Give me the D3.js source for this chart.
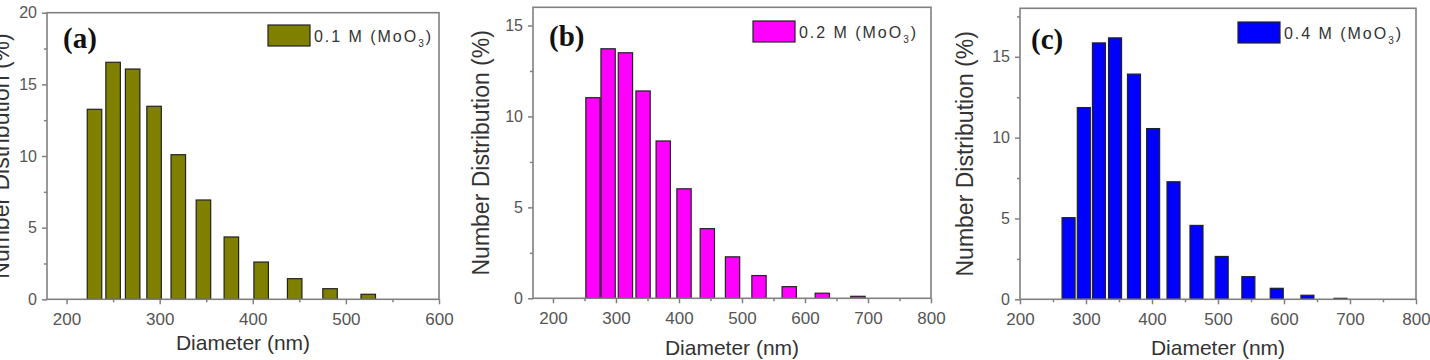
<!DOCTYPE html>
<html>
<head>
<meta charset="utf-8">
<style>
body { margin: 0; background: #fff; }
svg { display: block; font-family: "Liberation Sans", Arial, sans-serif; }
</style>
</head>
<body>
<svg id="chart" width="1430" height="360"></svg>
<script src="https://d3js.org/d3.v7.min.js"></script>
<script>

// panel (a) 0.1 M
const diamA = [230, 250, 271, 294, 320, 347, 377, 409, 445, 483, 524];
const valA  = [13.26, 16.54, 16.07, 13.47, 10.09, 6.93, 4.35, 2.6, 1.44, 0.74, 0.35];
// panel (b) 0.2 M
const diamB = [263.5, 287.5, 315, 343, 375, 408, 445, 485, 527, 575, 627.5, 684];
const valB  = [11.03, 13.72, 13.5, 11.4, 8.65, 6.02, 3.83, 2.28, 1.25, 0.64, 0.28, 0.11];
// panel (c) 0.4 M
const diamC = [273.6, 296.7, 319.6, 344, 372.7, 401.7, 432.6, 467.4, 505.6, 546, 589, 635.5, 685.6];
const valC  = [5.05, 11.86, 15.86, 16.17, 13.93, 10.56, 7.27, 4.57, 2.65, 1.40, 0.68, 0.25, 0.06];

const xTicks = [200, 300, 400, 500, 600, 700, 800];
const yTicksA = [0, 5, 10, 15, 20];
const yTicksB = [0, 5, 10, 15];
const yTicksC = [0, 5, 10, 15];

const legendA = "0.1 M (MoO";
const legendB = "0.2 M (MoO";
const legendC = "0.4 M (MoO";

const svg = d3.select("#chart");

function drawPanel(p) {
    let x = d3.scaleLinear().domain(p.xDomain).range([p.left, p.right]);
    let y = d3.scaleLinear().domain(p.yDomain).range([p.bottom, p.top]);
    let g = svg.append("g");

    // bars
    g.selectAll("rect.bar")
        .data(p.diam.map((d, i) => ({d: d, v: p.vals[i]})))
        .join("rect")
        .attr("class", "bar")
        .attr("x", d => x(d.d) - p.barW / 2)
        .attr("y", d => y(d.v))
        .attr("width", p.barW)
        .attr("height", d => y(0) - y(d.v))
        .attr("fill", p.color)
        .attr("stroke", "#222")
        .attr("stroke-width", 1.2);

    let xt = p.xTicks.filter(t => t >= p.xDomain[0] && t <= p.xDomain[1]);
    let xMinor = xt.slice(0, -1).map(t => t + 50).filter(t => t <= p.xDomain[1]);
    let yMinor = p.yTicks.map(t => t + 2.5).filter(t => t < p.yDomain[1]);

    // x axis
    let xa = g.append("g").attr("transform", `translate(0,${p.bottom})`)
        .call(d3.axisBottom(x).tickValues(xt).tickSize(5).tickPadding(5).tickFormat(d3.format("d")));
    g.append("g").attr("transform", `translate(0,${p.bottom})`)
        .call(d3.axisBottom(x).tickValues(xMinor).tickSize(3).tickFormat(""))
        .call(a => a.select(".domain").remove());
    // y axis
    let ya = g.append("g").attr("transform", `translate(${p.left},0)`)
        .call(d3.axisLeft(y).tickValues(p.yTicks).tickSize(5).tickPadding(5).tickFormat(d3.format("d")));
    g.append("g").attr("transform", `translate(${p.left},0)`)
        .call(d3.axisLeft(y).tickValues(yMinor).tickSize(3).tickFormat(""))
        .call(a => a.select(".domain").remove());

    g.selectAll(".tick line").attr("stroke", "#808080").attr("stroke-width", 1.5);
    g.selectAll(".domain").remove();
    xa.selectAll("text").attr("font-size", 17).attr("fill", "#555").attr("dy", "0.9em")
        .style("font-family", "Liberation Sans, Arial, sans-serif");
    ya.selectAll("text").attr("font-size", 16).attr("fill", "#555")
        .style("font-family", "Liberation Sans, Arial, sans-serif");

    // frame
    g.append("rect")
        .attr("x", p.left).attr("y", p.top)
        .attr("width", p.right - p.left).attr("height", p.bottom - p.top)
        .attr("fill", "none").attr("stroke", "#808080").attr("stroke-width", 1.6);

    // axis titles
    g.append("text")
        .attr("x", (p.left + p.right) / 2).attr("y", p.xTitleY)
        .attr("text-anchor", "middle").attr("font-size", 21).attr("fill", "#333")
        .text("Diameter (nm)");
    g.append("text")
        .attr("transform", `translate(${p.yTitleX},${(p.top + p.bottom) / 2}) rotate(-90)`)
        .attr("text-anchor", "middle").attr("font-size", 23).attr("fill", "#333")
        .text("Number Distribution (%)");

    // panel label
    g.append("text")
        .attr("x", p.labelX).attr("y", p.labelY)
        .attr("font-family", "Liberation Serif, Times New Roman, serif")
        .attr("font-weight", "bold").attr("font-size", 29).attr("fill", "#111")
        .text(p.label);

    // legend
    g.append("rect")
        .attr("x", p.legX).attr("y", p.legY)
        .attr("width", 42).attr("height", 21)
        .attr("fill", p.color).attr("stroke", "#222").attr("stroke-width", 1.2);
    let lt = g.append("text")
        .attr("x", p.legX + 46).attr("y", p.legY + 17)
        .attr("font-size", 16).attr("fill", "#333")
        .attr("textLength", 117).attr("lengthAdjust", "spacing");
    lt.append("tspan").text(p.legend);
    lt.append("tspan").attr("font-size", 10).attr("dy", 5).text("3");
    lt.append("tspan").attr("dy", -5).text(")");
}

drawPanel({
    diam: diamA, vals: valA, color: "#808000", barW: 14.5,
    xDomain: [179, 600], yDomain: [0, 20], xTicks: xTicks, yTicks: yTicksA,
    left: 47, right: 439, top: 12.7, bottom: 299.3,
    xTitleY: 350, yTitleX: 9, label: "(a)", labelX: 63, labelY: 48,
    legX: 268, legY: 25, legend: legendA
});
drawPanel({
    diam: diamB, vals: valB, color: "#ff00ff", barW: 14.3,
    xDomain: [168.3, 800], yDomain: [0, 16], xTicks: xTicks, yTicks: yTicksB,
    left: 533, right: 931, top: 7.3, bottom: 298.3,
    xTitleY: 355, yTitleX: 489, label: "(b)", labelX: 549, labelY: 46,
    legX: 753, legY: 21, legend: legendB
});
drawPanel({
    diam: diamC, vals: valC, color: "#0000ff", barW: 13,
    xDomain: [200, 800], yDomain: [0, 18], xTicks: xTicks, yTicks: yTicksC,
    left: 1020, right: 1416, top: 8.3, bottom: 299.3,
    xTitleY: 355, yTitleX: 973, label: "(c)", labelX: 1031, labelY: 49,
    legX: 1238, legY: 22, legend: legendC
});

</script>
</body>
</html>
